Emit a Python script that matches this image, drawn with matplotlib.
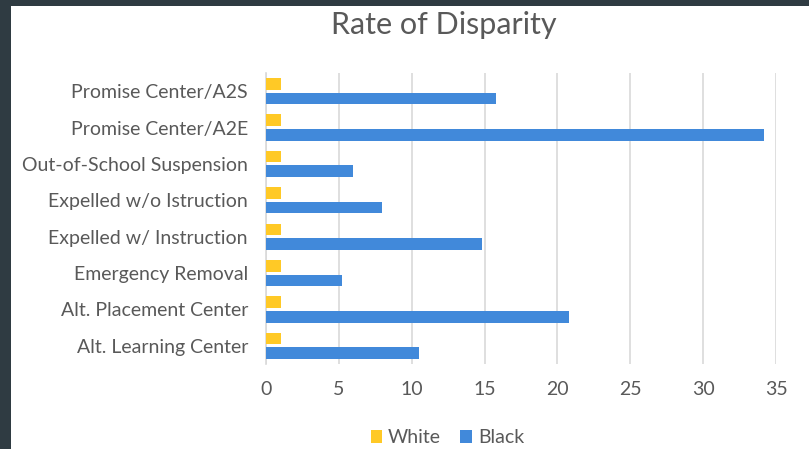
#!/usr/bin/env python3

import numpy as np
import matplotlib.pyplot as plt
from matplotlib.patches import Rectangle

categories = ['Promise Center/A2S', 'Promise Center/A2E', 'Out-of-School Suspension',
              'Expelled w/o Istruction', 'Expelled w/ Instruction', 'Emergency Removal',
              'Alt. Placement Center', 'Alt. Learning Center']
white_vals = [1, 1, 1, 1, 1, 1, 1, 1]
black_vals = [15.8, 34.2, 5.95, 7.95, 14.8, 5.2, 20.8, 10.5]
x_ticks = [0, 5, 10, 15, 20, 25, 30, 35]

plt.rcParams['font.family'] = ['Lato', 'DejaVu Sans']
grey = '#595959'

fig = plt.figure(figsize=(8.09, 4.49), dpi=100)
fig.patch.set_facecolor('white')

# dark frame strips from the screenshot (left and top)
fig.patches.append(Rectangle((0, 0), 11 / 809, 1, transform=fig.transFigure,
                             facecolor='#2f3b42', edgecolor='none', zorder=0))
fig.patches.append(Rectangle((0, 1 - 6 / 449), 1, 6 / 449, transform=fig.transFigure,
                             facecolor='#2f3b42', edgecolor='none', zorder=0))

ax = fig.add_axes([266 / 809, 1 - 364 / 449, 510 / 809, 291 / 449])

y = np.arange(len(categories))
h = 0.32
ax.barh(y - 0.2, white_vals, height=h, color='#FFC926', label='White', zorder=3)
ax.barh(y + 0.2, black_vals, height=h, color='#4189DA', label='Black', zorder=3)

ax.set_xlim(0, 35)
ax.set_ylim(len(categories) - 0.5, -0.5)
ax.set_xticks(x_ticks)
ax.set_yticks(y)
ax.set_yticklabels(categories)
ax.tick_params(axis='both', length=0, colors=grey, labelsize=14)
ax.tick_params(axis='x', pad=12)
ax.tick_params(axis='y', pad=13)

ax.grid(axis='x', color='#d9d9d9', linewidth=1.2, zorder=0)
for s in ['top', 'right', 'bottom']:
    ax.spines[s].set_visible(False)
ax.spines['left'].set_color('#d9d9d9')
ax.spines['left'].set_linewidth(1.2)

fig.text(0.548, 0.945, 'Rate of Disparity', ha='center', va='center',
         fontsize=22, color=grey)

leg = fig.legend(loc='center', bbox_to_anchor=(0.553, 0.025), ncol=2, frameon=False,
                 fontsize=14, handlelength=0.6, handleheight=0.6, handletextpad=0.3,
                 columnspacing=1.0, labelcolor=grey)

fig.savefig('out.png', dpi=100)
